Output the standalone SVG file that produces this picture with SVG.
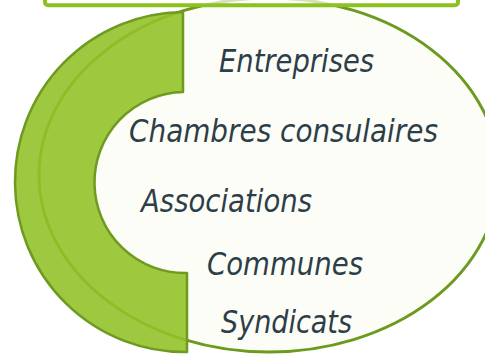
<svg xmlns="http://www.w3.org/2000/svg" width="485" height="354" viewBox="0 0 485 354">
<style>
.lbl{font-family:"DejaVu Sans","Verdana",sans-serif;font-style:italic;font-size:32px;fill:#2D3E48}
</style>
<rect x="0" y="0" width="485" height="354" fill="#FFFFFF"/>
<g id="ellipse">
<ellipse cx="269" cy="175" rx="230" ry="177" fill="#FCFDF7" stroke="#6B9A1E" stroke-width="3"/>
</g>
<g id="arc">
<path d="M183,12 A170,170 0 0 0 187,352 L187,273 A90,90 0 0 1 183,92 Z" fill="#92C127" fill-opacity="0.89" stroke="#6E9A20" stroke-width="2.5" stroke-linejoin="round"/>
</g>
<g id="topbox">
<rect x="45" y="-20" width="413" height="25.3" rx="3" fill="#FFFFFF" fill-opacity="0.7" stroke="#8DC021" stroke-width="4"/>
</g>
<g id="labels">
<text class="lbl" x="219" y="72" textLength="155" lengthAdjust="spacingAndGlyphs">Entreprises</text>
<text class="lbl" x="129" y="142" textLength="309" lengthAdjust="spacingAndGlyphs">Chambres consulaires</text>
<text class="lbl" x="141" y="212" textLength="171" lengthAdjust="spacingAndGlyphs">Associations</text>
<text class="lbl" x="207" y="275" textLength="156" lengthAdjust="spacingAndGlyphs">Communes</text>
<text class="lbl" x="221" y="333" textLength="131" lengthAdjust="spacingAndGlyphs">Syndicats</text>
</g>
<g id="connectors"/>
</svg>
